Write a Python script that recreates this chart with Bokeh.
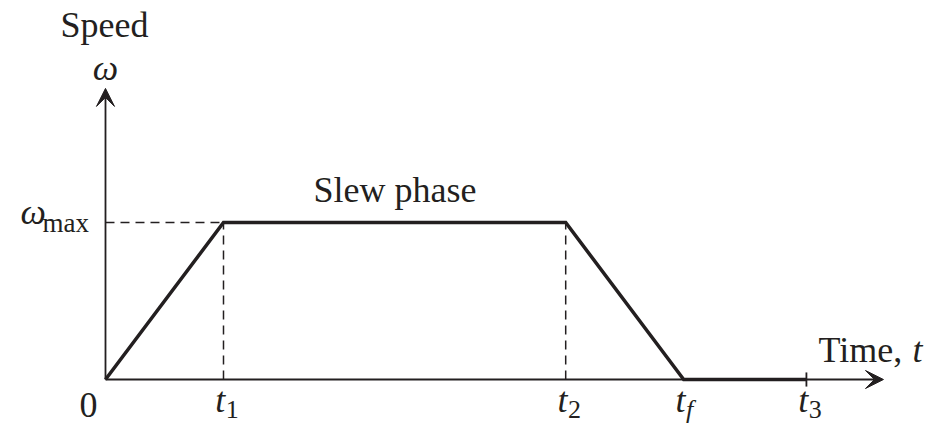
from bokeh.plotting import figure
from bokeh.models import Arrow, VeeHead, Label, ColumnDataSource
from bokeh.embed import file_html
from bokeh.resources import INLINE

# Trapezoidal speed profile: ramp up, slew at constant speed, ramp down, rest
phase_times = [0.0, 1.0, 3.9, 4.9, 5.94]   # 0, t1, t2, tf, t3
speed_values = [0.0, 1.0, 1.0, 0.0, 0.0]   # normalised to omega_max
omega_max = 1.0

tick_times = [0.0, 1.0, 3.9, 4.9, 5.94]
tick_main = ["0", "t", "t", "t", "t"]
tick_sub = ["", "1", "2", "f", "3"]

x_axis_end = 6.593
y_axis_end = 1.854

INK = "#231f20"
SERIF = "Liberation Serif"
LIFT = 0.083  # vertical correction of the text baseline, in data units

p = figure(width=939, height=424, output_backend="svg", toolbar_location=None,
           x_range=(-0.8898, 7.0678), y_range=(-0.2866, 2.414),
           min_border=0, outline_line_color=None)
p.axis.visible = False
p.grid.visible = False
p.background_fill_color = "white"
p.border_fill_color = "white"

# coordinate axes with arrowheads
p.add_layout(Arrow(end=VeeHead(size=18, fill_color=INK, line_color=INK, line_width=1),
                   x_start=0, y_start=0, x_end=0, y_end=y_axis_end,
                   line_color=INK, line_width=1.8))
p.add_layout(Arrow(end=VeeHead(size=18, fill_color=INK, line_color=INK, line_width=1),
                   x_start=0, y_start=0, x_end=x_axis_end, y_end=0,
                   line_color=INK, line_width=1.8))

# dashed guides to omega_max and the phase boundaries t1, t2
t1, t2 = phase_times[1], phase_times[2]
guides = ColumnDataSource(dict(x0=[0.0, t1, t2], y0=[omega_max, 0.0, 0.0],
                               x1=[t1, t1, t2], y1=[omega_max, omega_max, omega_max]))
p.segment("x0", "y0", "x1", "y1", source=guides, line_color=INK,
          line_width=1.5, line_dash="9 6")

# small tick mark at t3
t3 = phase_times[4]
p.segment(x0=[t3], y0=[-0.045], x1=[t3], y1=[0.045], line_color=INK, line_width=1.8)

# the speed profile
p.line(phase_times, speed_values, line_color=INK, line_width=3.5, line_join="miter")


def label(x, y, text, size, italic=False, align="left"):
    p.add_layout(Label(x=x, y=y + LIFT, text=text, text_font=SERIF,
                       text_font_size=f"{size}px", text_color=INK,
                       text_font_style="italic" if italic else "normal",
                       text_align=align, text_baseline="alphabetic"))


# axis titles
label(-0.381, 2.178, "Speed", 36)
label(0.0, 1.904, "\u03c9", 36, italic=True, align="center")
label(6.042, 0.108, "Time,", 36)
label(6.84, 0.108, "t", 36, italic=True)

# omega_max on the vertical axis
label(-0.72, 0.981, "\u03c9", 36, italic=True)
label(-0.534, 0.917, "max", 27)

# phase label
label(1.763, 1.121, "Slew phase", 36)

# time tick labels
for tt, main, sub in zip(tick_times, tick_main, tick_sub):
    if sub == "":
        label(tt - 0.144, -0.248, main, 36, align="center")
    else:
        label(tt + 0.015, -0.2166, main, 36, italic=True, align="right")
        label(tt + 0.02, -0.274, sub, 26, italic=(sub == "f"))

open("out.html", "w").write(file_html(p, INLINE))
